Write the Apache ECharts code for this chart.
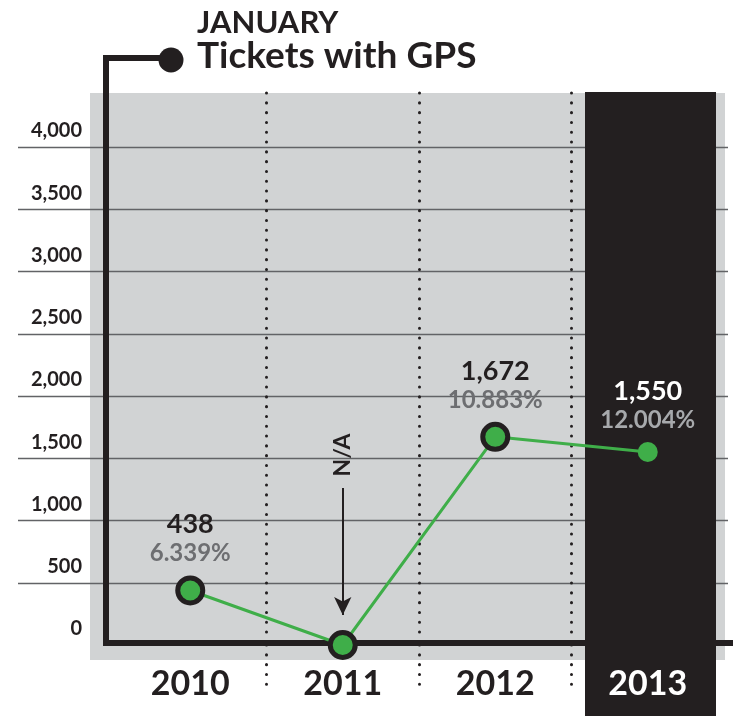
<!DOCTYPE html>
<html>
<head>
<meta charset="utf-8">
<script src="https://cdn.jsdelivr.net/npm/echarts@6/dist/echarts.min.js"></script>
<style>html,body{margin:0;padding:0;background:#fff;}#c{width:733px;height:716px;}</style>
</head>
<body>
<div id="c"></div>
<script>
// ---- data ----
var years = ['2010', '2011', '2012', '2013'];
var tickets = [438, 0, 1672, 1550];
var valueText = ['438', 'N/A', '1,672', '1,550'];
var percentText = ['6.339%', '', '10.883%', '12.004%'];
var yTicks = [0, 500, 1000, 1500, 2000, 2500, 3000, 3500, 4000];
var naArrow = [1261, 241];   // annotation arrow span (value units)
var naTextAt = 1526;          // annotation text position (value units)

var DARK = '#231f20', GREEN = '#3fae49', FONT = 'Lato';
var chart = echarts.init(document.getElementById('c'), null, {renderer: 'canvas'});

var seriesData = tickets.map(function (v, i) {
  var last = i === years.length - 1;
  var item = {
    value: v,
    symbolSize: last ? 20 : 25,
    itemStyle: last ? {color: GREEN, borderWidth: 0} : {color: GREEN, borderColor: DARK, borderWidth: 5},
    label: {show: percentText[i] !== ''}
  };
  if (last) {
    item.label.rich = {
      v: {fontFamily: FONT, fontWeight: 'bold', fontSize: 27, color: '#ffffff', lineHeight: 30, align: 'center'},
      p: {fontFamily: FONT, fontWeight: 'bold', fontSize: 24, color: '#a7a9ac', lineHeight: 28, align: 'center'}
    };
  }
  return item;
});

var dotted = {color: DARK, width: 3, type: [0.1, 9.7], cap: 'round'};

var option = {
  animation: false,
  title: {
    text: 'JANUARY', subtext: 'Tickets with GPS',
    left: 192, top: 2, itemGap: 0,
    textStyle: {fontFamily: FONT, fontWeight: 'bold', fontSize: 31, color: DARK},
    subtextStyle: {fontFamily: FONT, fontWeight: 'bold', fontSize: 37, color: DARK, lineHeight: 36}
  },
  grid: [
    {left: 18, right: 5, top: 147, bottom: 71},
    {left: 114, right: 9, top: 147, bottom: 71},
    {left: 114, right: 161.5, top: 93, bottom: 71}
  ],
  xAxis: [
    {gridIndex: 0, type: 'value', show: false, min: 0, max: 1},
    {gridIndex: 1, type: 'category', data: years, boundaryGap: true, z: 5,
      axisLine: {show: false}, axisTick: {show: false}, splitLine: {show: false},
      axisLabel: {margin: 22, fontFamily: FONT, fontWeight: 'bold', fontSize: 34,
        color: function (v) { return v === years[years.length - 1] ? '#ffffff' : DARK; }}},
    {gridIndex: 2, type: 'category', data: years.slice(0, 3), boundaryGap: true,
      axisLine: {show: false}, axisLabel: {show: false},
      axisTick: {show: true, length: 46, interval: function (i) { return i > 0; }, lineStyle: dotted},
      splitLine: {show: true, interval: function (i) { return i > 0; }, lineStyle: dotted}}
  ],
  yAxis: [
    {gridIndex: 0, type: 'value', min: yTicks[0], max: yTicks[yTicks.length - 1], interval: 500,
      axisLine: {show: false}, axisTick: {show: false},
      axisLabel: {inside: true, align: 'right', margin: 64, verticalAlign: 'bottom', padding: [0, 0, 6, 0],
        fontFamily: FONT, fontWeight: 'bold', fontSize: 20, color: DARK,
        formatter: function (v) { return v.toLocaleString('en-US'); }},
      splitLine: {show: true, showMinLine: false, lineStyle: {color: '#626366', width: 1.3}}},
    {gridIndex: 1, type: 'value', min: yTicks[0], max: yTicks[yTicks.length - 1], interval: 500, show: false},
    {gridIndex: 2, type: 'value', min: 0, max: 1, show: false}
  ],
  graphic: [
    {type: 'rect', z: -10, shape: {x: 90, y: 93, width: 635, height: 567}, style: {fill: '#d1d3d4'}},
    {type: 'rect', z: 3, shape: {x: 585, y: 92, width: 131, height: 624}, style: {fill: DARK}},
    {type: 'polyline', z: 4, shape: {points: [[733, 643], [106, 643], [106, 58], [170, 58]]},
      style: {stroke: DARK, lineWidth: 6, fill: null, lineJoin: 'miter'}},
    {type: 'circle', z: 4, shape: {cx: 171, cy: 60, r: 12.5}, style: {fill: DARK}}
  ],
  series: [{
    type: 'line', xAxisIndex: 1, yAxisIndex: 1, z: 6,
    data: seriesData,
    symbol: 'circle',
    lineStyle: {color: GREEN, width: 3},
    label: {
      show: true, position: 'top', distance: 8,
      formatter: function (p) { return '{v|' + valueText[p.dataIndex] + '}\n{p|' + percentText[p.dataIndex] + '}'; },
      rich: {
        v: {fontFamily: FONT, fontWeight: 'bold', fontSize: 27, color: DARK, lineHeight: 30, align: 'center'},
        p: {fontFamily: FONT, fontWeight: 'bold', fontSize: 24, color: '#6d6e71', lineHeight: 28, align: 'center'}
      }
    },
    markLine: {
      silent: true, symbol: ['none', 'arrow'], symbolSize: [13, 18],
      label: {show: false},
      lineStyle: {color: DARK, width: 2, type: 'solid'},
      emphasis: {disabled: true},
      data: [[{coord: [years[1], naArrow[0]]}, {coord: [years[1], naArrow[1]]}]]
    },
    markPoint: {
      silent: true, symbol: 'circle', symbolSize: 1, itemStyle: {color: 'rgba(0,0,0,0)'},
      label: {show: true, position: 'inside', rotate: 90, formatter: valueText[1],
        fontFamily: FONT, fontWeight: 'bold', fontSize: 23, color: DARK},
      data: [{coord: [years[1], naTextAt]}]
    }
  }]
};
chart.setOption(option);
</script>
</body>
</html>
